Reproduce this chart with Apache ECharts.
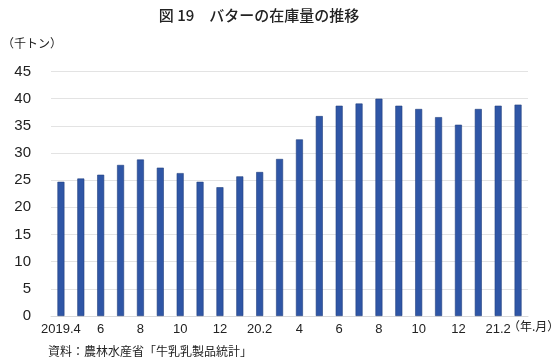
<!DOCTYPE html>
<html>
<head>
<meta charset="utf-8">
<script src="https://cdn.jsdelivr.net/npm/echarts@6/dist/echarts.min.js"></script>
<style>
html,body{margin:0;padding:0;background:#fff;}
#chart{width:558px;height:363px;}
</style>
</head>
<body>
<div id="chart"></div>
<script>
const categories = ["2019.4","2019.5","2019.6","2019.7","2019.8","2019.9","2019.10","2019.11","2019.12",
  "2020.1","2020.2","2020.3","2020.4","2020.5","2020.6","2020.7","2020.8","2020.9","2020.10","2020.11","2020.12",
  "2021.1","2021.2","2021.3"];
const tickLabels = ["2019.4","","6","","8","","10","","12","","20.2","","4","","6","","8","","10","","12","","21.2",""];
const stock = [24.7,25.3,26.0,27.8,28.8,27.3,26.3,24.7,23.7,25.7,26.5,28.9,32.5,36.8,38.7,39.1,40.0,38.7,38.1,36.6,35.2,38.1,38.7,38.9];
const yTicks = [0,5,10,15,20,25,30,35,40,45];

const FONT = "'Noto Sans CJK JP', 'Liberation Sans', sans-serif";
const chart = echarts.init(document.getElementById('chart'), null, {renderer:'canvas'});
chart.setOption({
  animation:false,
  backgroundColor:'#fff',
  title:{
    text:'図 19　バターの在庫量の推移',
    left:254, top:3, textAlign:'center',
    textStyle:{fontFamily:FONT, fontSize:15, fontWeight:500, color:'#222'}
  },
  graphic:[
    {type:'text', left:2, top:37, style:{text:'（千トン）', font:"12px 'Noto Sans CJK JP'", fill:'#222'}},
    {type:'text', left:48, top:345, style:{text:'資料：農林水産省「牛乳乳製品統計」', font:"12px 'Noto Sans CJK JP'", fill:'#222'}},
    {type:'text', left:508, top:320, style:{text:'（年.月）', font:"12px 'Noto Sans CJK JP'", fill:'#222'}}
  ],
  grid:{left:51, right:30, top:71.5, bottom:47},
  xAxis:{
    type:'category',
    data:categories,
    axisLine:{show:true, lineStyle:{color:'#d9d9d9'}},
    axisTick:{show:false},
    axisLabel:{
      interval:0, margin:7, color:'#222', fontSize:13, fontFamily:"'Liberation Sans', Arial, sans-serif",
      formatter:(v, i)=>tickLabels[i]
    }
  },
  yAxis:{
    type:'value', min:yTicks[0], max:yTicks[yTicks.length-1], interval:5,
    axisLine:{show:false}, axisTick:{show:false},
    splitLine:{lineStyle:{color:'#e3e3e3', width:1}},
    axisLabel:{color:'#222', fontSize:15, margin:20, fontFamily:"'Liberation Sans', Arial, sans-serif"}
  },
  series:[{
    type:'bar',
    data:stock,
    barWidth:7,
    itemStyle:{color:'#2f56a6', borderColor:'#23427f', borderWidth:0.6}
  }]
});
</script>
</body>
</html>
